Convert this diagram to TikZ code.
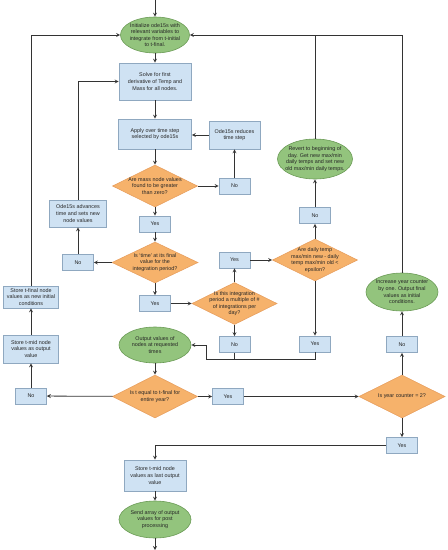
\documentclass[tikz,border=0pt]{standalone}
\usepackage{fontspec}
\setmainfont{Liberation Sans}
\usetikzlibrary{calc,shapes.geometric,arrows}
\definecolor{boxfill}{HTML}{CFE2F3}
\definecolor{boxline}{HTML}{8FA8C0}
\definecolor{decfill}{HTML}{F6B26B}
\definecolor{decline}{HTML}{E8A060}
\definecolor{termfill}{HTML}{93C47D}
\definecolor{termline}{HTML}{6A9A55}
\definecolor{flowline}{HTML}{333333}

\begin{document}
\begin{tikzpicture}[x=1pt,y=-1pt,>=stealth,color=flowline,line width=0.8pt,
	font=\fontsize{5.4}{6.6}\selectfont,text=black!85,
	box/.style={rectangle, draw=boxline, fill=boxfill, line width=0.6pt, align=center, inner sep=0pt},
	ans/.style={box, minimum width=31pt, minimum height=16pt},
	decision/.style={diamond, draw=decline, fill=decfill, line width=0.6pt, align=center,
		inner xsep=-12pt, inner ysep=-8pt, minimum width=85pt, minimum height=42pt},
	term/.style={ellipse, draw=termline, fill=termfill, line width=0.6pt, align=center,
		inner xsep=-14pt, inner ysep=-8pt}]

\useasboundingbox (0,0) rectangle (448,550);

\node[term, minimum width=69pt, minimum height=36pt] (Init) at (155,35) {Initialize ode15s with\\relevant variables to\\integrate from t-initial\\to t-final.};
\node[box, minimum width=72pt, minimum height=37pt] (Solve) at (155,81.5) {Solve for first\\derivative of Temp and\\Mass for all nodes.};
\node[box, minimum width=73pt, minimum height=30pt] (Apply) at (155,134) {Apply over time step\\selected by ode15s};
\node[box, minimum width=51pt, minimum height=28pt] (Reduce) at (234.5,135) {Ode15s reduces\\time step};
\node[decision] (Mass) at (155,186) {Are mass node values\\found to be greater\\than zero?};
\node[ans] (NoM) at (234.5,186) {No};
\node[ans] (YesM) at (155,224) {Yes};
\node[decision, minimum width=86pt, minimum height=41pt] (Time) at (155,262.5) {Is `time' at its final\\value for the\\integration period?};
\node[ans] (NoT) at (78,262.5) {No};
\node[box, minimum width=57pt, minimum height=27pt] (Adv) at (78,213.5) {Ode15s advances\\time and sets new\\node values};
\node[ans] (YesT) at (155,303.5) {Yes};
\node[decision] (Mult) at (234.5,303.5) {Is this integration\\period a multiple of \#\\of integrations per\\day?};
\node[ans] (YesMu) at (234.5,260) {Yes};
\node[decision] (Daily) at (315,260) {Are daily temp\\max/min new - daily\\temp max/min old <\\epsilon?};
\node[ans] (NoD) at (315,215.5) {No};
\node[term, minimum width=75pt, minimum height=40pt] (Revert) at (315,159) {Revert to beginning of\\day. Get new max/min\\daily temps and set new\\old max/min daily temps.};
\node[ans] (NoMu) at (234.5,344.5) {No};
\node[ans] (YesD) at (315,344) {Yes};
\node[term, minimum width=72pt, minimum height=36pt] (Output) at (155,345) {Output values of\\nodes at requested\\times};
\node[decision, minimum height=43pt] (Tfin) at (155,396.5) {Is t equal to t-final for\\entire year?};
\node[ans] (NoTf) at (31,396) {No};
\node[ans] (YesTf) at (228,396.5) {Yes};
\node[decision, minimum width=86pt, minimum height=43pt] (Year) at (402,396.5) {Is year counter = 2?};
\node[ans] (NoY) at (402,344.5) {No};
\node[term, minimum width=72pt, minimum height=38pt] (Inc) at (402,292) {Increase year counter\\by one. Output final\\values as initial\\conditions.};
\node[ans] (YesY) at (402,445.5) {Yes};
\node[box, minimum width=55pt, minimum height=28pt] (Mid) at (31,349) {Store t-mid node\\values as output\\value};
\node[box, minimum width=55pt, minimum height=22pt] (Fin) at (31,297) {Store t-final node\\values as new initial\\conditions};
\node[box, minimum width=62pt, minimum height=31pt] (Last) at (155,475.5) {Store t-mid node\\values as last output\\value};
\node[term, minimum width=72pt, minimum height=37pt] (Send) at (155,519.5) {Send array of output\\values for post\\processing};
\coordinate (Top) at (155,0);
\coordinate (Bot) at (155,550);
\coordinate (J) at (206,359);

\draw[->] (Top) -- (Init);
\draw[->] (Init) -- (Solve);
\draw[->] (Solve) -- (Apply);
\draw[->] (Apply) -- (Mass);
\draw[->] (Mass) -- (NoM);
\draw[->] (NoM) -- (Reduce);
\draw[->] let \p1 = (Reduce.west), \p2 = (Apply.east) in (\p1) -- (\x2,\y1);
\draw[->] (Mass) -- (YesM);
\draw[->] (YesM) -- (Time);
\draw[->] (Time) -- (NoT);
\draw[->] (NoT) -- (Adv);
\draw[->] (Adv.north) |- (Solve.west);
\draw[->] (Time) -- (YesT);
\draw[->] (YesT) -- (Mult);
\draw[->] (Mult) -- (YesMu);
\draw[->] (YesMu) -- (Daily);
\draw[->] (Daily) -- (NoD);
\draw[->] (NoD) -- (Revert);
\draw (Revert.north) -- (Revert.north |- Init.east);
\draw[->] (Inc.north) |- (Init.east);
\draw[->] (Mult) -- (NoMu);
\draw[->] (Daily) -- (YesD);
\draw (NoMu.south) -- (NoMu.south |- J);
\draw[->] (YesD.south) |- (J) |- (Output.east);
\draw[->] (Output) -- (Tfin);
\draw[->] (Tfin) -- (NoTf);
\draw[->] (NoTf) -- (Mid);
\draw[->] (Mid) -- (Fin);
\draw[->] (Fin.north) |- (Init.west);
\draw[->] (Tfin) -- (YesTf);
\draw[->] (YesTf) -- (Year);
\draw[->] (Year) -- (NoY);
\draw[->] (NoY) -- (Inc);
\draw[->] (Year) -- (YesY);
\draw[->] (YesY.west) -| (Last.north);
\draw[->] (Last) -- (Send);
\draw[->] (Send) -- (Bot);
\end{tikzpicture}
\end{document}
